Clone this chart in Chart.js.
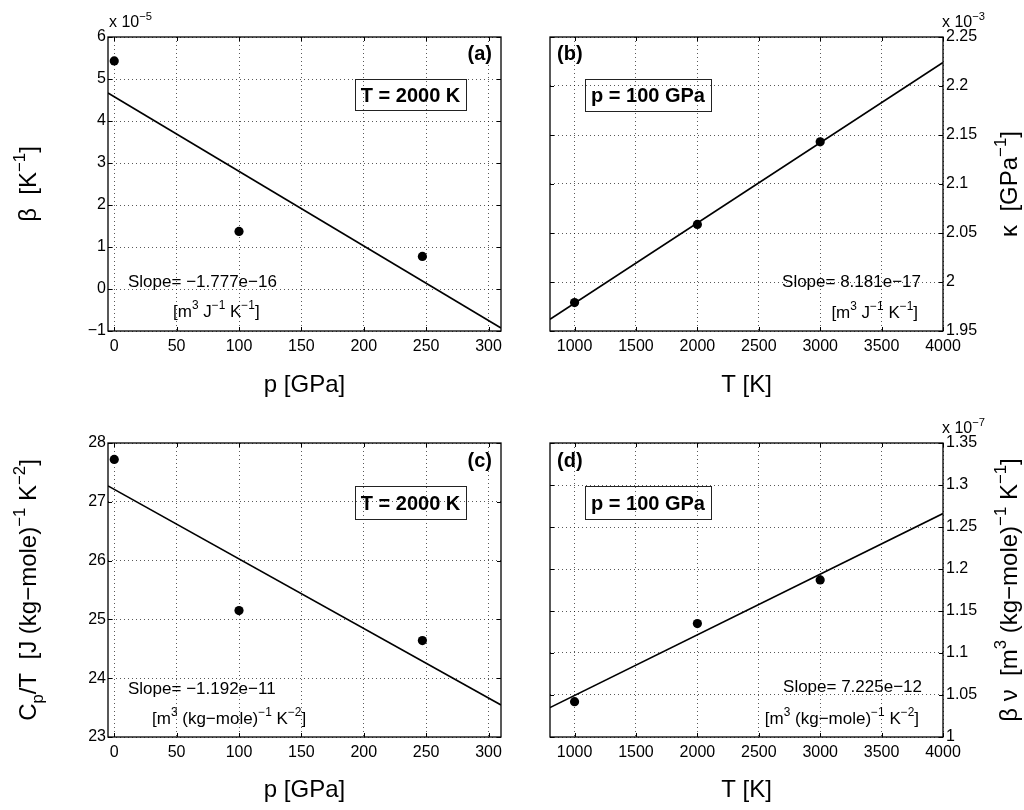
<!DOCTYPE html>
<html lang="en">
<head>
<meta charset="UTF-8">
<title>Linear fits vs p and T</title>
<script src="https://cdn.jsdelivr.net/npm/chart.js@4.4.0/dist/chart.umd.min.js"></script>
<style>
  body { margin: 0; background: #fff; }
  #wrap { position: relative; width: 1024px; height: 810px; }
  canvas { position: absolute; }
</style>
</head>
<body>
<div id="wrap">
  <canvas id="chartA" width="512" height="405" style="left:0px;top:0px"></canvas>
  <canvas id="chartB" width="512" height="405" style="left:512px;top:0px"></canvas>
  <canvas id="chartC" width="512" height="405" style="left:0px;top:405px"></canvas>
  <canvas id="chartD" width="512" height="405" style="left:512px;top:405px"></canvas>
</div>
<script>

// measured points
var pressure = [0, 100, 247]          // GPa, at T = 2000 K
var temperature = [1000, 2000, 3000]  // K, at p = 100 GPa
var betaP = [5.43, 1.37, 0.776]       // x 1e-5
var kappaT = [1.979, 2.0587, 2.143]   // x 1e-3
var cpP = [27.72, 25.15, 24.64]
var betaVT = [1.042, 1.135, 1.187]    // x 1e-7

// fitted lines, read at the plot edges
var fitP = [-5, 310]
var fitT = [800, 4000]
var fitBetaP = [4.666, -0.929]
var fitKappaT = [1.962, 2.224]
var fitCpP = [27.27, 23.545]
var fitBetaVT = [1.035, 1.266]

// ticks
var pTicks = [0, 50, 100, 150, 200, 250, 300]
var tTicks = [1000, 1500, 2000, 2500, 3000, 3500, 4000]
var betaTicks = [-1, 0, 1, 2, 3, 4, 5, 6]
var kappaTicks = [1.95, 2, 2.05, 2.1, 2.15, 2.2, 2.25]
var cpTicks = [23, 24, 25, 26, 27, 28]
var betaVTicks = [1, 1.05, 1.1, 1.15, 1.2, 1.25, 1.3, 1.35]

var FONT = '"Liberation Sans", Arial, Helvetica, sans-serif'
Chart.defaults.font.family = FONT
Chart.defaults.color = '#000'

function fontStr(size, bold) {
  return (bold ? 'bold ' : '') + size + 'px ' + FONT
}

// text with super/subscripts: segs = [[text, ''|'sup'|'sub'], ...], y is the baseline
function drawRich(ctx, segs, x, y, size, align, bold) {
  var w = 0
  segs.forEach(function (s) {
    ctx.font = fontStr(s[1] ? size * 0.7 : size, bold)
    w += ctx.measureText(s[0]).width
  })
  var cx = align == 'center' ? x - w / 2 : (align == 'right' ? x - w : x)
  ctx.textAlign = 'left'
  ctx.textBaseline = 'alphabetic'
  segs.forEach(function (s) {
    var sz = s[1] ? size * 0.7 : size
    var dy = s[1] == 'sup' ? -size * 0.45 : (s[1] == 'sub' ? size * 0.28 : 0)
    ctx.font = fontStr(sz, bold)
    ctx.fillText(s[0], cx, y + dy)
    cx += ctx.measureText(s[0]).width
  })
}

function makeDecor(d) {
  return {
    id: 'decor',
    afterDraw: function (chart) {
      var ctx = chart.ctx, a = chart.chartArea
      var xs = chart.scales.x, ys = chart.scales.y
      ctx.save()
      ctx.fillStyle = '#000'
      ctx.strokeStyle = '#000'

      // inward ticks on all four sides
      ctx.lineWidth = 1
      ctx.beginPath()
      xs.ticks.forEach(function (t) {
        var px = Math.round(xs.getPixelForValue(t.value)) + 0.5
        ctx.moveTo(px, a.bottom); ctx.lineTo(px, a.bottom - 4)
        ctx.moveTo(px, a.top); ctx.lineTo(px, a.top + 4)
      })
      ys.ticks.forEach(function (t) {
        var py = Math.round(ys.getPixelForValue(t.value)) + 0.5
        ctx.moveTo(a.left, py); ctx.lineTo(a.left + 4, py)
        ctx.moveTo(a.right, py); ctx.lineTo(a.right - 4, py)
      })
      ctx.stroke()

      // axes box
      ctx.lineWidth = 1.3
      ctx.strokeRect(a.left, a.top, a.right - a.left, a.bottom - a.top)

      // panel letter
      drawRich(ctx, [[d.letter, '']], d.letterX, d.letterY, 20, d.letterAlign, true)

      // boxed condition
      ctx.lineWidth = 1
      ctx.strokeStyle = '#222'
      ctx.strokeRect(d.box[0] + 0.5, d.box[1] + 0.5, d.box[2], d.box[3])
      drawRich(ctx, [[d.cond, '']], d.box[0] + d.box[2] / 2, d.box[1] + d.box[3] / 2 + 7, 20, 'center', true)

      // slope notes
      drawRich(ctx, d.slope, d.slopeX, d.slopeY, 17, d.slopeAlign)
      drawRich(ctx, d.units, d.unitsX, d.unitsY, 17, d.slopeAlign)

      // exponent above the y axis
      if (d.exp) drawRich(ctx, [['x 10', ''], [d.exp, 'sup']], d.expX, d.expY, 16, 'left')

      // axis titles
      drawRich(ctx, d.xTitle, (a.left + a.right) / 2, 392, 24, 'center')
      ctx.save()
      ctx.translate(d.yTitleX, (a.top + a.bottom) / 2)
      ctx.rotate(-Math.PI / 2)
      drawRich(ctx, d.yTitle, 0, 8, 24, 'center')
      ctx.restore()

      ctx.restore()
    }
  }
}

function pts(xs, ys) {
  return xs.map(function (x, i) { return { x: x, y: ys[i] } })
}

function makeChart(id, o) {
  var left = o.yPos == 'left'
  return new Chart(document.getElementById(id), {
    type: 'scatter',
    data: {
      datasets: [{
        data: pts(o.fitX, o.fitY),
        showLine: true,
        borderColor: '#000',
        borderWidth: 1.6,
        pointRadius: 0
      }, {
        data: pts(o.x, o.y),
        showLine: false,
        pointRadius: 4.6,
        pointBackgroundColor: '#000',
        pointBorderColor: '#000',
        pointBorderWidth: 0
      }]
    },
    options: {
      responsive: false,
      animation: false,
      events: [],
      layout: {
        padding: { left: left ? 0 : 38, right: left ? 11 : 0, top: o.top, bottom: 405 - o.top - 294 - 60 }
      },
      plugins: { legend: { display: false }, tooltip: { enabled: false } },
      scales: {
        x: {
          type: 'linear',
          position: 'bottom',
          min: o.xMin, max: o.xMax,
          afterBuildTicks: function (s) { s.ticks = o.xTicks.map(function (v) { return { value: v } }) },
          afterFit: function (s) { s.height = 60 },
          ticks: { font: { size: 16 }, padding: 6, maxRotation: 0, autoSkip: false,
            callback: function (v) { return String(v) } },
          grid: { color: 'rgba(0,0,0,0.65)', lineWidth: 1, drawTicks: false },
          border: { display: false, dash: [1, 3] }
        },
        y: {
          type: 'linear',
          position: o.yPos,
          min: o.yMin, max: o.yMax,
          afterBuildTicks: function (s) { s.ticks = o.yTicks.map(function (v) { return { value: v } }) },
          afterFit: function (s) { s.width = left ? 108 : 81 },
          ticks: { font: { size: 16 }, padding: left ? 2 : 3, autoSkip: false,
            callback: function (v) { return String(v).replace('-', '\u2212') } },
          grid: { color: 'rgba(0,0,0,0.65)', lineWidth: 1, drawTicks: false },
          border: { display: false, dash: [1, 3] }
        }
      }
    },
    plugins: [makeDecor(o.decor)]
  })
}

var unitsJK = [['[m', ''], ['3', 'sup'], [' J', ''], ['\u22121', 'sup'], [' K', ''], ['\u22121', 'sup'], [']', '']]
var unitsKgK2 = [['[m', ''], ['3', 'sup'], [' (kg\u2212mole)', ''], ['\u22121', 'sup'], [' K', ''], ['\u22122', 'sup'], [']', '']]
var pTitle = [['p [GPa]', '']]
var tTitle = [['T [K]', '']]

makeChart('chartA', {
  x: pressure, y: betaP, fitX: fitP, fitY: fitBetaP,
  xMin: -5, xMax: 310, yMin: -1, yMax: 6, xTicks: pTicks, yTicks: betaTicks,
  yPos: 'left', top: 37,
  decor: {
    letter: '(a)', letterX: 492, letterY: 60, letterAlign: 'right',
    cond: 'T = 2000 K', box: [355, 79, 111, 31],
    slope: [['Slope= \u22121.777e\u221216', '']], slopeX: 128, slopeY: 287, slopeAlign: 'left',
    units: unitsJK, unitsX: 173, unitsY: 317,
    exp: '\u22125', expX: 109, expY: 27,
    xTitle: pTitle,
    yTitle: [['\u03b2  [K', ''], ['\u22121', 'sup'], [']', '']], yTitleX: 28
  }
})

makeChart('chartB', {
  x: temperature, y: kappaT, fitX: fitT, fitY: fitKappaT,
  xMin: 800, xMax: 4000, yMin: 1.95, yMax: 2.25, xTicks: tTicks, yTicks: kappaTicks,
  yPos: 'right', top: 37,
  decor: {
    letter: '(b)', letterX: 45, letterY: 60, letterAlign: 'left',
    cond: 'p = 100 GPa', box: [73, 79, 126, 32],
    slope: [['Slope= 8.181e\u221217', '']], slopeX: 409, slopeY: 287, slopeAlign: 'right',
    units: unitsJK, unitsX: 406, unitsY: 318,
    exp: '\u22123', expX: 430, expY: 27,
    xTitle: tTitle,
    yTitle: [['\u03ba  [GPa', ''], ['\u22121', 'sup'], [']', '']], yTitleX: 497
  }
})

makeChart('chartC', {
  x: pressure, y: cpP, fitX: fitP, fitY: fitCpP,
  xMin: -5, xMax: 310, yMin: 23, yMax: 28, xTicks: pTicks, yTicks: cpTicks,
  yPos: 'left', top: 38,
  decor: {
    letter: '(c)', letterX: 492, letterY: 62, letterAlign: 'right',
    cond: 'T = 2000 K', box: [355, 81, 111, 33],
    slope: [['Slope= \u22121.192e\u221211', '']], slopeX: 128, slopeY: 289, slopeAlign: 'left',
    units: unitsKgK2, unitsX: 152, unitsY: 319,
    exp: null,
    xTitle: pTitle,
    yTitle: [['C', ''], ['p', 'sub'], ['/T  [J (kg\u2212mole)', ''], ['\u22121', 'sup'], [' K', ''], ['\u22122', 'sup'], [']', '']],
    yTitleX: 28
  }
})

makeChart('chartD', {
  x: temperature, y: betaVT, fitX: fitT, fitY: fitBetaVT,
  xMin: 800, xMax: 4000, yMin: 1, yMax: 1.35, xTicks: tTicks, yTicks: betaVTicks,
  yPos: 'right', top: 38,
  decor: {
    letter: '(d)', letterX: 45, letterY: 62, letterAlign: 'left',
    cond: 'p = 100 GPa', box: [73, 81, 126, 33],
    slope: [['Slope= 7.225e\u221212', '']], slopeX: 410, slopeY: 287, slopeAlign: 'right',
    units: unitsKgK2, unitsX: 407, unitsY: 319,
    exp: '\u22127', expX: 430, expY: 28,
    xTitle: tTitle,
    yTitle: [['\u03b2 \u03bd  [m', ''], ['3', 'sup'], [' (kg\u2212mole)', ''], ['\u22121', 'sup'], [' K', ''], ['\u22121', 'sup'], [']', '']],
    yTitleX: 497
  }
})

</script>
</body>
</html>
